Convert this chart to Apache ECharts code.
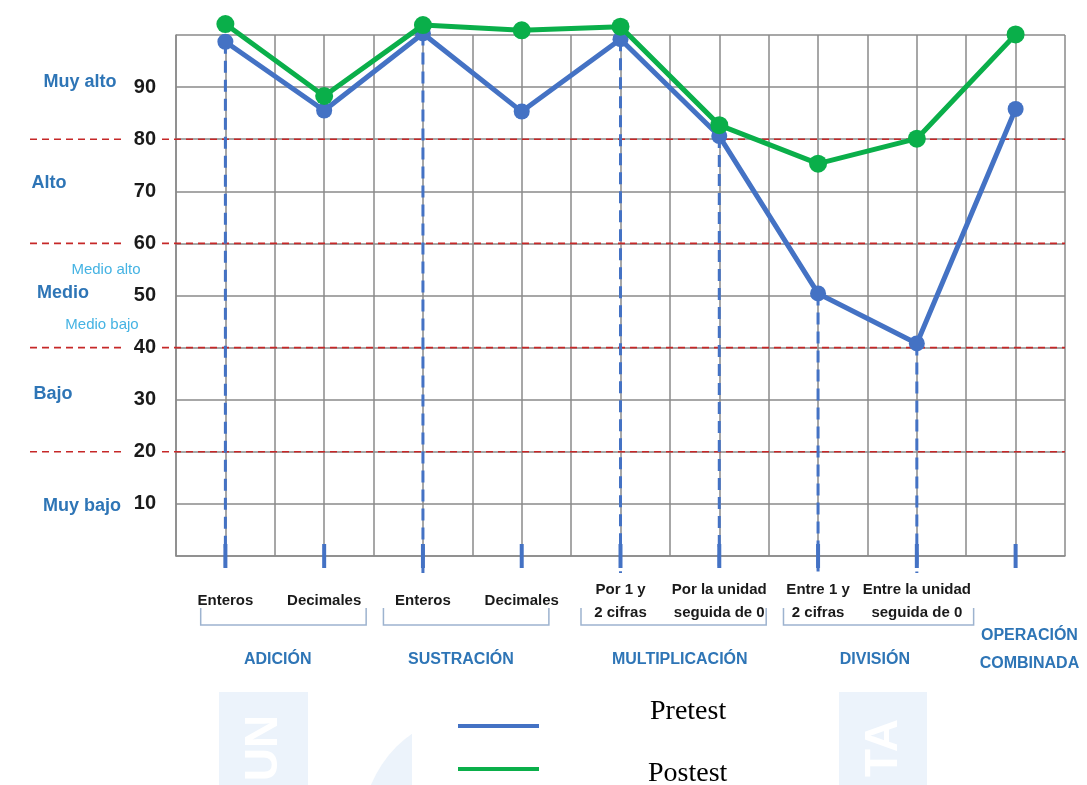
<!DOCTYPE html>
<html><head><meta charset="utf-8">
<script src="https://cdn.jsdelivr.net/npm/echarts@6/dist/echarts.min.js"></script>
<style>html,body{margin:0;padding:0;background:#fff;}#c{width:1087px;height:785px;}</style>
</head><body><div id="c"></div>
<script>
// ---- data ----
const categories = ['Enteros', 'Decimales', 'Enteros', 'Decimales', 'Por 1 y\n2 cifras', 'Por la unidad\nseguida de 0', 'Entre 1 y\n2 cifras', 'Entre la unidad\nseguida de 0', ''];
const groups = ['ADICIÓN', 'SUSTRACIÓN', 'MULTIPLICACIÓN', 'DIVISIÓN', 'OPERACIÓN\nCOMBINADA'];
const pretest = [98.7, 85.5, 100.3, 85.3, 99.2, 80.6, 50.4, 40.8, 85.8];
const postest = [102.1, 88.3, 101.9, 100.9, 101.6, 82.7, 75.3, 80.1, 100.1];
const yTickLabels = [10, 20, 30, 40, 50, 60, 70, 80, 90];
const cutLevels = [20, 40, 60, 80];
const levelNames = ['Muy alto', 'Alto', 'Medio', 'Bajo', 'Muy bajo'];
const subLevelNames = ['Medio alto', 'Medio bajo'];
const dropLineIdx = [0, 2, 4, 5, 6, 7];
const seriesNames = ['Pretest', 'Postest'];

const BLUE = '#4472c4', GREEN = '#0aaf4a', RED = '#c62828', GRID = '#8a8a8a';
const LVL = '#2e75b6', SUB = '#45b3e3', BRACE = '#9db3cf';

const chart = echarts.init(document.getElementById('c'), null, {renderer: 'canvas'});

const option = {
  animation: false,
  backgroundColor: '#fff',
  grid: {left: 176, right: 22, top: 35, bottom: 229},
  xAxis: {
    type: 'value', min: 0, max: 18, interval: 1,
    axisLine: {show: true, lineStyle: {color: GRID, width: 1.5}},
    axisTick: {show: false},
    splitLine: {show: true, lineStyle: {color: GRID, width: 1.5}},
    axisLabel: {
      show: true, margin: 45, verticalAlign: 'middle', lineHeight: 23,
      fontFamily: 'Liberation Sans', fontWeight: 'bold', fontSize: 15, color: '#1a1a1a',
      showMinLabel: true, showMaxLabel: true,
      formatter: v => (v % 2 === 1 ? categories[(v - 1) / 2] : '')
    }
  },
  yAxis: {
    type: 'value', min: 0, max: 100, interval: 10,
    axisLine: {show: true, lineStyle: {color: GRID, width: 1.5}},
    axisTick: {show: false},
    splitLine: {show: true, lineStyle: {color: GRID, width: 1.5}},
    axisLabel: {
      margin: 20, fontFamily: 'Liberation Sans', fontWeight: 'bold', fontSize: 20, color: '#1a1a1a',
      formatter: v => (yTickLabels.indexOf(v) >= 0 ? String(v) : '')
    }
  },
  legend: [
    {
      data: [{name: seriesNames[0]}], left: 458, top: 698, padding: 0,
      icon: 'rect', itemWidth: 81, itemHeight: 4, itemGap: 0, selectedMode: false,
      formatter: n => '{a|' + n + '}',
      textStyle: {padding: [0, 0, 0, 106],
        rich: {a: {fontFamily: 'Liberation Serif', fontSize: 28, color: '#000', lineHeight: 56, verticalAlign: 'top'}}}
    },
    {
      data: [{name: seriesNames[1]}], left: 458, top: 760, padding: 0,
      icon: 'rect', itemWidth: 81, itemHeight: 4, itemGap: 0, selectedMode: false,
      formatter: n => '{a|' + n + '}',
      textStyle: {padding: [0, 0, 0, 104],
        rich: {a: {fontFamily: 'Liberation Serif', fontSize: 28, color: '#000', lineHeight: 38, verticalAlign: 'bottom'}}}
    }
  ],
  series: [
    {
      name: seriesNames[0], type: 'line', clip: false, z: 3,
      data: pretest.map((v, i) => [2 * i + 1, v]),
      symbol: 'circle', symbolSize: 16,
      lineStyle: {color: BLUE, width: 5}, itemStyle: {color: BLUE}
    },
    {
      name: seriesNames[1], type: 'line', clip: false, z: 4,
      data: postest.map((v, i) => [2 * i + 1, v]),
      symbol: 'circle', symbolSize: 18,
      lineStyle: {color: GREEN, width: 5}, itemStyle: {color: GREEN}
    }
  ]
};
chart.setOption(option);

function buildGraphics() {
  const P = (x, y) => chart.convertToPixel({gridIndex: 0}, [x, y]);
  const els = [];
  const x0 = P(0, 0)[0], x1 = P(18, 0)[0], yb = P(0, 0)[1];

  // watermark
  const wm = '#ecf3fb';
  els.push({type: 'rect', z: -10, shape: {x: 219, y: 692, width: 89, height: 100}, style: {fill: wm}});
  els.push({type: 'rect', z: -10, shape: {x: 839, y: 692, width: 88, height: 100}, style: {fill: wm}});
  els.push({type: 'text', z: -9, x: 264, y: 748, rotation: Math.PI / 2,
    style: {text: 'UN', fill: '#fff', font: 'bold 46px Liberation Sans', align: 'center', verticalAlign: 'middle'}});
  els.push({type: 'text', z: -9, x: 884, y: 748, rotation: Math.PI / 2,
    style: {text: 'TA', fill: '#fff', font: 'bold 46px Liberation Sans', align: 'center', verticalAlign: 'middle'}});
  els.push({type: 'circle', z: -10, shape: {cx: 480, cy: 830, r: 118}, style: {fill: wm}});
  els.push({type: 'rect', z: -9, shape: {x: 412, y: 700, width: 220, height: 100}, style: {fill: '#fff'}});

  // red dashed cut lines
  cutLevels.forEach(v => {
    const y = P(0, v)[1];
    els.push({type: 'line', z: 1, shape: {x1: 30, y1: y, x2: x0 - 51, y2: y},
      style: {stroke: RED, lineWidth: 1.6, lineDash: [7, 5]}});
    els.push({type: 'line', z: 1, shape: {x1: x0 - 14, y1: y, x2: x1, y2: y},
      style: {stroke: RED, lineWidth: 1.6, lineDash: [7, 5]}});
  });

  // blue dashed drop lines
  dropLineIdx.forEach(i => {
    const p = P(2 * i + 1, pretest[i]);
    els.push({type: 'line', z: 1, shape: {x1: p[0], y1: p[1], x2: p[0], y2: yb + 17},
      style: {stroke: BLUE, lineWidth: 3, lineDash: [12, 7]}});
  });
  // category ticks
  pretest.forEach((v, i) => {
    const x = P(2 * i + 1, 0)[0];
    els.push({type: 'line', z: 1, shape: {x1: x, y1: yb - 12, x2: x, y2: yb + 12},
      style: {stroke: BLUE, lineWidth: 4}});
  });

  // level labels
  const lvlY = [91, 71.5, 50.5, 31, 9.5];
  const lvlX = [80, 49, 63, 53, 82];
  levelNames.forEach((n, i) => {
    els.push({type: 'text', x: lvlX[i], y: P(0, lvlY[i])[1],
      style: {text: n, fill: LVL, font: 'bold 18px Liberation Sans', align: 'center', verticalAlign: 'middle'}});
  });
  const subY = [55.0, 44.4];
  const subX = [106, 102];
  subLevelNames.forEach((n, i) => {
    els.push({type: 'text', x: subX[i], y: P(0, subY[i])[1],
      style: {text: n, fill: SUB, font: '15px Liberation Sans Narrow, Liberation Sans', align: 'center', verticalAlign: 'middle'}});
  });

  // braces
  const spans = [[0.5, 3.85], [4.2, 7.55], [8.2, 11.95], [12.3, 16.15]];
  spans.forEach(s => {
    const a = P(s[0], 0)[0], b = P(s[1], 0)[0];
    els.push({type: 'polyline', shape: {points: [[a, yb + 52], [a, yb + 69], [b, yb + 69], [b, yb + 52]]},
      style: {stroke: BRACE, lineWidth: 1.5, fill: null}});
  });

  // group labels
  const gX = [2.06, 5.77, 10.2, 14.15, 17.28];
  groups.forEach((g, i) => {
    const last = i === groups.length - 1;
    els.push({type: 'text', x: P(gX[i], 0)[0], y: yb + (last ? 94 : 104),
      style: {text: g, fill: LVL, font: 'bold 16px Liberation Sans', align: 'center', verticalAlign: 'middle', lineHeight: 28}});
  });
  chart.setOption({graphic: {elements: els}});
}
buildGraphics();
</script>
</body></html>
